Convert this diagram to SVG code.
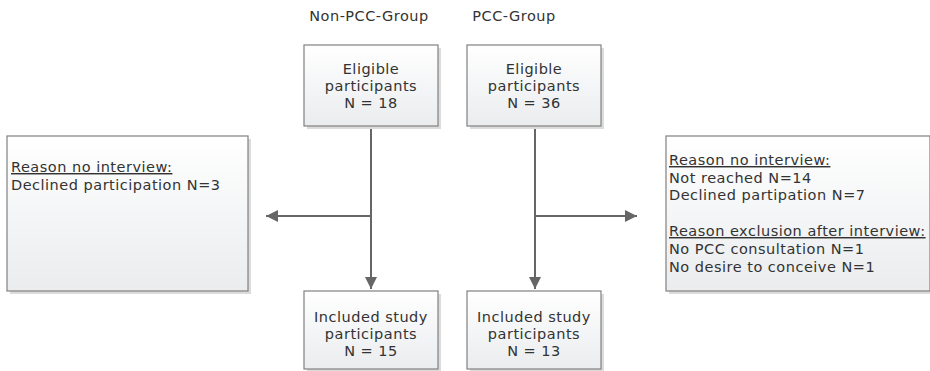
<svg xmlns="http://www.w3.org/2000/svg" width="930" height="371" viewBox="0 0 930 371">
<defs>
<linearGradient id="g" x1="0" y1="0" x2="0" y2="1">
<stop offset="0" stop-color="#ffffff"/>
<stop offset="1" stop-color="#eaecee"/>
</linearGradient>
<marker id="ah" viewBox="0 0 10 10" refX="10" refY="5" markerWidth="12" markerHeight="12" markerUnits="userSpaceOnUse" orient="auto">
<path d="M0,0 L10,5 L0,10 z" fill="#666666"/>
</marker>
<style>
text{font-family:"DejaVu Sans",Verdana,sans-serif;font-size:14.5px;letter-spacing:0.5px;fill:#333333}
.c{text-anchor:middle}
.u{text-decoration:underline}
.box{fill:url(#g);stroke:#808080;stroke-width:1.2}
.sh{fill:#dcdcdc}
.ln{stroke:#666666;stroke-width:2;fill:none}
</style>
</defs>
<g id="labels">
<text class="c" x="369" y="21">Non-PCC-Group</text>
<text class="c" x="514" y="21">PCC-Group</text>
</g>
<g id="connectors">
<line class="ln" x1="371" y1="127" x2="371" y2="289" marker-end="url(#ah)"/>
<line class="ln" x1="535" y1="127" x2="535" y2="289" marker-end="url(#ah)"/>
<line class="ln" x1="371" y1="216" x2="266" y2="216" marker-end="url(#ah)"/>
<line class="ln" x1="535" y1="216" x2="637" y2="216" marker-end="url(#ah)"/>
</g>
<g id="elig-nonpcc">
<rect class="sh" x="307" y="48" width="134" height="81"/>
<rect class="box" x="304" y="45" width="134" height="81"/>
<text class="c" x="371" y="74">Eligible</text>
<text class="c" x="371" y="91">participants</text>
<text class="c" x="371" y="108">N = 18</text>
</g>
<g id="elig-pcc">
<rect class="sh" x="470" y="48" width="134" height="81"/>
<rect class="box" x="467" y="45" width="134" height="81"/>
<text class="c" x="534" y="74">Eligible</text>
<text class="c" x="534" y="91">participants</text>
<text class="c" x="534" y="108">N = 36</text>
</g>
<g id="excl-nonpcc">
<rect class="sh" x="10" y="139" width="241" height="155"/>
<rect class="box" x="7" y="136" width="241" height="155"/>
<text class="u" x="11" y="172">Reason no interview:</text>
<text x="11" y="190">Declined participation N=3</text>
</g>
<g id="excl-pcc">
<rect class="sh" x="669" y="139" width="264" height="155"/>
<rect class="box" x="666" y="136" width="264" height="155"/>
<text class="u" x="669" y="165">Reason no interview:</text>
<text x="669" y="183">Not reached N=14</text>
<text x="669" y="200">Declined partipation N=7</text>
<text class="u" x="669" y="236">Reason exclusion after interview:</text>
<text x="669" y="254">No PCC consultation N=1</text>
<text x="669" y="272">No desire to conceive N=1</text>
</g>
<g id="incl-nonpcc">
<rect class="sh" x="307" y="294" width="134" height="78"/>
<rect class="box" x="304" y="291" width="134" height="78"/>
<text class="c" x="371" y="322">Included study</text>
<text class="c" x="371" y="339">participants</text>
<text class="c" x="371" y="356">N = 15</text>
</g>
<g id="incl-pcc">
<rect class="sh" x="470" y="294" width="134" height="78"/>
<rect class="box" x="467" y="291" width="134" height="78"/>
<text class="c" x="534" y="322">Included study</text>
<text class="c" x="534" y="339">participants</text>
<text class="c" x="534" y="356">N = 13</text>
</g>
</svg>
